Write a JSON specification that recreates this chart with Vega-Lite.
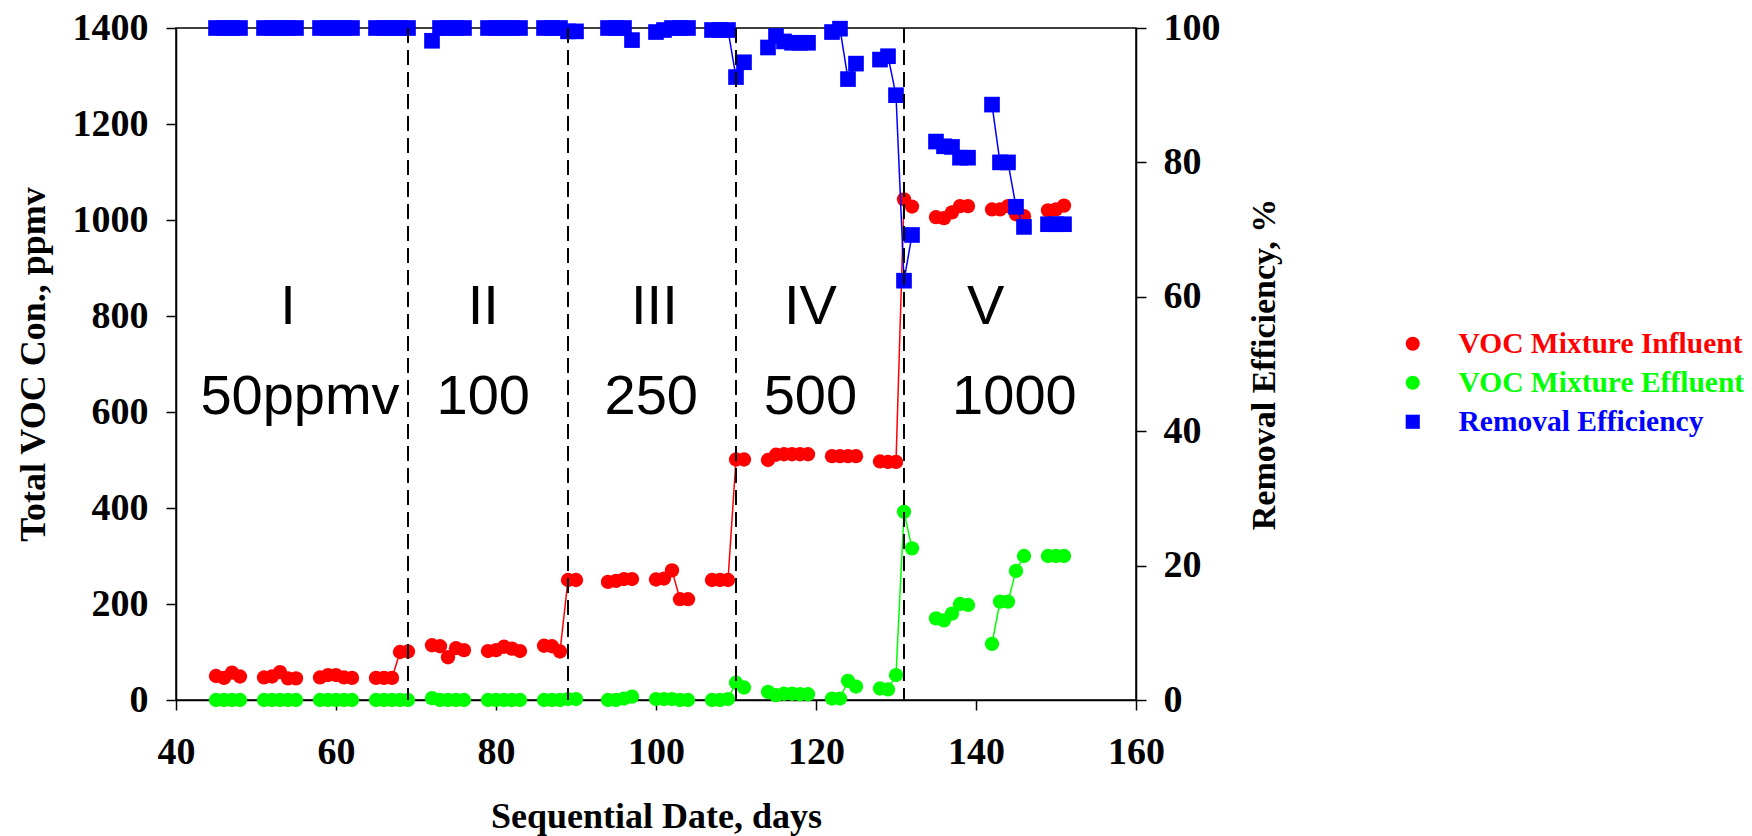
{
  "$schema": "https://vega.github.io/schema/vega-lite/v6.json",
  "width": 960,
  "height": 672,
  "autosize": {"type": "none"},
  "padding": {"left": 176, "top": 28, "right": 616, "bottom": 136},
  "background": "white",
  "config": {
    "view": {"stroke": "black", "strokeWidth": 1.5},
    "axis": {
      "labelFont": "Liberation Serif", "labelFontWeight": "bold", "labelFontSize": 38, "labelColor": "black", "labelFlush": false, "format": "d",
      "titleFont": "Liberation Serif", "titleFontWeight": "bold", "titleFontSize": 36, "titleColor": "black",
      "domainColor": "black", "domainWidth": 1.5, "tickColor": "black", "tickWidth": 1.5, "tickSize": 10, "grid": false
    },
    "legend": {
      "orient": "none", "legendX": 1222, "legendY": 301, "title": null,
      "labelFont": "Liberation Serif", "labelFontWeight": "bold", "labelFontSize": 29.5, "labelLimit": 0,
      "symbolSize": 200, "symbolOpacity": 1, "rowPadding": 8, "labelOffset": 31
    }
  },
  "datasets": {
    "obs": [
      {"day": 45, "run": 1, "VOC Mixture Influent": 50, "VOC Mixture Effluent": 0, "Removal Efficiency": 100},
      {"day": 46, "run": 1, "VOC Mixture Influent": 46, "VOC Mixture Effluent": 0, "Removal Efficiency": 100},
      {"day": 47, "run": 1, "VOC Mixture Influent": 57, "VOC Mixture Effluent": 0, "Removal Efficiency": 100},
      {"day": 48, "run": 1, "VOC Mixture Influent": 49, "VOC Mixture Effluent": 0, "Removal Efficiency": 100},
      {"day": 51, "run": 2, "VOC Mixture Influent": 47, "VOC Mixture Effluent": 0, "Removal Efficiency": 100},
      {"day": 52, "run": 2, "VOC Mixture Influent": 49, "VOC Mixture Effluent": 0, "Removal Efficiency": 100},
      {"day": 53, "run": 2, "VOC Mixture Influent": 58, "VOC Mixture Effluent": 0, "Removal Efficiency": 100},
      {"day": 54, "run": 2, "VOC Mixture Influent": 45, "VOC Mixture Effluent": 0, "Removal Efficiency": 100},
      {"day": 55, "run": 2, "VOC Mixture Influent": 45, "VOC Mixture Effluent": 0, "Removal Efficiency": 100},
      {"day": 58, "run": 3, "VOC Mixture Influent": 47, "VOC Mixture Effluent": 0, "Removal Efficiency": 100},
      {"day": 59, "run": 3, "VOC Mixture Influent": 52, "VOC Mixture Effluent": 0, "Removal Efficiency": 100},
      {"day": 60, "run": 3, "VOC Mixture Influent": 52, "VOC Mixture Effluent": 0, "Removal Efficiency": 100},
      {"day": 61, "run": 3, "VOC Mixture Influent": 47, "VOC Mixture Effluent": 0, "Removal Efficiency": 100},
      {"day": 62, "run": 3, "VOC Mixture Influent": 46, "VOC Mixture Effluent": 0, "Removal Efficiency": 100},
      {"day": 65, "run": 4, "VOC Mixture Influent": 46, "VOC Mixture Effluent": 0, "Removal Efficiency": 100},
      {"day": 66, "run": 4, "VOC Mixture Influent": 46, "VOC Mixture Effluent": 0, "Removal Efficiency": 100},
      {"day": 67, "run": 4, "VOC Mixture Influent": 46, "VOC Mixture Effluent": 0, "Removal Efficiency": 100},
      {"day": 68, "run": 4, "VOC Mixture Influent": 100, "VOC Mixture Effluent": 0, "Removal Efficiency": 100},
      {"day": 69, "run": 4, "VOC Mixture Influent": 101, "VOC Mixture Effluent": 0, "Removal Efficiency": 100},
      {"day": 72, "run": 5, "VOC Mixture Influent": 114, "VOC Mixture Effluent": 4, "Removal Efficiency": 98.1},
      {"day": 73, "run": 5, "VOC Mixture Influent": 112, "VOC Mixture Effluent": 0, "Removal Efficiency": 100},
      {"day": 74, "run": 5, "VOC Mixture Influent": 89, "VOC Mixture Effluent": 0, "Removal Efficiency": 100},
      {"day": 75, "run": 5, "VOC Mixture Influent": 108, "VOC Mixture Effluent": 0, "Removal Efficiency": 100},
      {"day": 76, "run": 5, "VOC Mixture Influent": 104, "VOC Mixture Effluent": 0, "Removal Efficiency": 100},
      {"day": 79, "run": 6, "VOC Mixture Influent": 102, "VOC Mixture Effluent": 0, "Removal Efficiency": 100},
      {"day": 80, "run": 6, "VOC Mixture Influent": 104, "VOC Mixture Effluent": 0, "Removal Efficiency": 100},
      {"day": 81, "run": 6, "VOC Mixture Influent": 111, "VOC Mixture Effluent": 0, "Removal Efficiency": 100},
      {"day": 82, "run": 6, "VOC Mixture Influent": 107, "VOC Mixture Effluent": 0, "Removal Efficiency": 100},
      {"day": 83, "run": 6, "VOC Mixture Influent": 102, "VOC Mixture Effluent": 0, "Removal Efficiency": 100},
      {"day": 86, "run": 7, "VOC Mixture Influent": 113, "VOC Mixture Effluent": 0, "Removal Efficiency": 100},
      {"day": 87, "run": 7, "VOC Mixture Influent": 112, "VOC Mixture Effluent": 0, "Removal Efficiency": 100},
      {"day": 88, "run": 7, "VOC Mixture Influent": 101, "VOC Mixture Effluent": 0, "Removal Efficiency": 100},
      {"day": 89, "run": 7, "VOC Mixture Influent": 250, "VOC Mixture Effluent": 2, "Removal Efficiency": 99.5},
      {"day": 90, "run": 7, "VOC Mixture Influent": 250, "VOC Mixture Effluent": 2, "Removal Efficiency": 99.5},
      {"day": 94, "run": 8, "VOC Mixture Influent": 246, "VOC Mixture Effluent": 0, "Removal Efficiency": 100},
      {"day": 95, "run": 8, "VOC Mixture Influent": 248, "VOC Mixture Effluent": 0, "Removal Efficiency": 100},
      {"day": 96, "run": 8, "VOC Mixture Influent": 252, "VOC Mixture Effluent": 3, "Removal Efficiency": 100},
      {"day": 97, "run": 8, "VOC Mixture Influent": 252, "VOC Mixture Effluent": 7, "Removal Efficiency": 98.2},
      {"day": 100, "run": 9, "VOC Mixture Influent": 251, "VOC Mixture Effluent": 2, "Removal Efficiency": 99.4},
      {"day": 101, "run": 9, "VOC Mixture Influent": 253, "VOC Mixture Effluent": 2, "Removal Efficiency": 99.7},
      {"day": 102, "run": 9, "VOC Mixture Influent": 270, "VOC Mixture Effluent": 2, "Removal Efficiency": 100},
      {"day": 103, "run": 9, "VOC Mixture Influent": 210, "VOC Mixture Effluent": 0, "Removal Efficiency": 100},
      {"day": 104, "run": 9, "VOC Mixture Influent": 210, "VOC Mixture Effluent": 0, "Removal Efficiency": 100},
      {"day": 107, "run": 10, "VOC Mixture Influent": 250, "VOC Mixture Effluent": 0, "Removal Efficiency": 99.7},
      {"day": 108, "run": 10, "VOC Mixture Influent": 250, "VOC Mixture Effluent": 0, "Removal Efficiency": 99.7},
      {"day": 109, "run": 10, "VOC Mixture Influent": 250, "VOC Mixture Effluent": 2, "Removal Efficiency": 99.7},
      {"day": 110, "run": 10, "VOC Mixture Influent": 501, "VOC Mixture Effluent": 36, "Removal Efficiency": 92.7},
      {"day": 111, "run": 10, "VOC Mixture Influent": 501, "VOC Mixture Effluent": 26, "Removal Efficiency": 94.9},
      {"day": 114, "run": 11, "VOC Mixture Influent": 500, "VOC Mixture Effluent": 17, "Removal Efficiency": 97.1},
      {"day": 115, "run": 11, "VOC Mixture Influent": 511, "VOC Mixture Effluent": 10, "Removal Efficiency": 98.8},
      {"day": 116, "run": 11, "VOC Mixture Influent": 512, "VOC Mixture Effluent": 13, "Removal Efficiency": 98.0},
      {"day": 117, "run": 11, "VOC Mixture Influent": 512, "VOC Mixture Effluent": 13, "Removal Efficiency": 97.8},
      {"day": 118, "run": 11, "VOC Mixture Influent": 512, "VOC Mixture Effluent": 12, "Removal Efficiency": 97.8},
      {"day": 119, "run": 11, "VOC Mixture Influent": 512, "VOC Mixture Effluent": 12, "Removal Efficiency": 97.8},
      {"day": 122, "run": 12, "VOC Mixture Influent": 508, "VOC Mixture Effluent": 3, "Removal Efficiency": 99.4},
      {"day": 123, "run": 12, "VOC Mixture Influent": 508, "VOC Mixture Effluent": 3, "Removal Efficiency": 99.9},
      {"day": 124, "run": 12, "VOC Mixture Influent": 508, "VOC Mixture Effluent": 40, "Removal Efficiency": 92.4},
      {"day": 125, "run": 12, "VOC Mixture Influent": 508, "VOC Mixture Effluent": 28, "Removal Efficiency": 94.7},
      {"day": 128, "run": 13, "VOC Mixture Influent": 497, "VOC Mixture Effluent": 24, "Removal Efficiency": 95.3},
      {"day": 129, "run": 13, "VOC Mixture Influent": 496, "VOC Mixture Effluent": 22, "Removal Efficiency": 95.8},
      {"day": 130, "run": 13, "VOC Mixture Influent": 496, "VOC Mixture Effluent": 52, "Removal Efficiency": 90.0},
      {"day": 131, "run": 13, "VOC Mixture Influent": 1043, "VOC Mixture Effluent": 392, "Removal Efficiency": 62.4},
      {"day": 132, "run": 13, "VOC Mixture Influent": 1028, "VOC Mixture Effluent": 316, "Removal Efficiency": 69.2},
      {"day": 135, "run": 14, "VOC Mixture Influent": 1006, "VOC Mixture Effluent": 170, "Removal Efficiency": 83.1},
      {"day": 136, "run": 14, "VOC Mixture Influent": 1004, "VOC Mixture Effluent": 166, "Removal Efficiency": 82.4},
      {"day": 137, "run": 14, "VOC Mixture Influent": 1016, "VOC Mixture Effluent": 180, "Removal Efficiency": 82.3},
      {"day": 138, "run": 14, "VOC Mixture Influent": 1029, "VOC Mixture Effluent": 200, "Removal Efficiency": 80.7},
      {"day": 139, "run": 14, "VOC Mixture Influent": 1029, "VOC Mixture Effluent": 198, "Removal Efficiency": 80.7},
      {"day": 142, "run": 15, "VOC Mixture Influent": 1022, "VOC Mixture Effluent": 117, "Removal Efficiency": 88.6},
      {"day": 143, "run": 15, "VOC Mixture Influent": 1022, "VOC Mixture Effluent": 205, "Removal Efficiency": 80.0},
      {"day": 144, "run": 15, "VOC Mixture Influent": 1029, "VOC Mixture Effluent": 205, "Removal Efficiency": 80.0},
      {"day": 145, "run": 15, "VOC Mixture Influent": 1012, "VOC Mixture Effluent": 269, "Removal Efficiency": 73.4},
      {"day": 146, "run": 15, "VOC Mixture Influent": 1008, "VOC Mixture Effluent": 300, "Removal Efficiency": 70.4},
      {"day": 149, "run": 16, "VOC Mixture Influent": 1020, "VOC Mixture Effluent": 300, "Removal Efficiency": 70.8},
      {"day": 150, "run": 16, "VOC Mixture Influent": 1022, "VOC Mixture Effluent": 300, "Removal Efficiency": 70.8},
      {"day": 151, "run": 16, "VOC Mixture Influent": 1030, "VOC Mixture Effluent": 300, "Removal Efficiency": 70.8}
    ],
    "phases": [{"day": 69}, {"day": 89}, {"day": 110}, {"day": 131}],
    "notes": [
      {"day": 54, "v": 818, "t": "I"},
      {"day": 78.4, "v": 818, "t": "II"},
      {"day": 99.8, "v": 818, "t": "III"},
      {"day": 119.3, "v": 818, "t": "IV"},
      {"day": 141.2, "v": 818, "t": "V"},
      {"day": 55.5, "v": 631, "t": "50ppmv"},
      {"day": 78.4, "v": 631, "t": "100"},
      {"day": 99.4, "v": 631, "t": "250"},
      {"day": 119.3, "v": 631, "t": "500"},
      {"day": 144.8, "v": 631, "t": "1000"}
    ]
  },
  "layer": [
    {
      "layer": [
        {
          "data": {"name": "obs"},
          "transform": [{"fold": ["VOC Mixture Influent", "VOC Mixture Effluent"], "as": ["series", "v"]}],
          "mark": {"type": "line", "strokeWidth": 1.5},
          "encoding": {
            "x": {"field": "day", "type": "quantitative", "scale": {"domain": [40, 160], "nice": false}, "axis": {"values": [40, 60, 80, 100, 120, 140, 160], "title": "Sequential Date, days", "labelPadding": 23, "titlePadding": 28}},
            "y": {"field": "v", "type": "quantitative", "scale": {"domain": [0, 1400], "nice": false}, "axis": {"values": [0, 200, 400, 600, 800, 1000, 1200, 1400], "title": "Total VOC Con., ppmv", "labelPadding": 18, "titlePadding": 20}},
            "detail": {"field": "run", "type": "nominal"},
            "stroke": {"field": "series", "type": "nominal", "scale": {"domain": ["Removal Efficiency", "VOC Mixture Effluent", "VOC Mixture Influent"], "range": ["#0000ff", "#00ff00", "#ff0000"]}, "legend": null}
          }
        },
        {
          "data": {"name": "obs"},
          "transform": [{"fold": ["VOC Mixture Influent", "VOC Mixture Effluent"], "as": ["series", "v"]}],
          "mark": {"type": "point", "filled": true, "opacity": 1, "size": 205},
          "encoding": {
            "x": {"field": "day", "type": "quantitative", "scale": {"domain": [40, 160], "nice": false}, "axis": {"values": [40, 60, 80, 100, 120, 140, 160], "title": "Sequential Date, days", "labelPadding": 23, "titlePadding": 28}},
            "y": {"field": "v", "type": "quantitative", "scale": {"domain": [0, 1400], "nice": false}, "axis": {"values": [0, 200, 400, 600, 800, 1000, 1200, 1400], "title": "Total VOC Con., ppmv", "labelPadding": 18, "titlePadding": 20}},
            "color": {"field": "series", "type": "nominal", "scale": {"domain": ["VOC Mixture Influent", "VOC Mixture Effluent", "Removal Efficiency"], "range": ["#ff0000", "#00ff00", "#0000ff"]},
              "legend": {"labelColor": {"expr": "scale('color', datum.value)"}}},
            "shape": {"field": "series", "type": "nominal", "scale": {"domain": ["VOC Mixture Influent", "VOC Mixture Effluent", "Removal Efficiency"], "range": ["circle", "circle", "square"]},
              "legend": {"labelColor": {"expr": "scale('color', datum.value)"}}}
          }
        },
        {
          "data": {"name": "notes"},
          "mark": {"type": "text", "font": "Liberation Sans", "fontSize": 56, "fontWeight": "normal", "align": "center", "baseline": "middle", "color": "black"},
          "encoding": {
            "x": {"field": "day", "type": "quantitative", "scale": {"domain": [40, 160], "nice": false}, "axis": {"values": [40, 60, 80, 100, 120, 140, 160], "title": "Sequential Date, days", "labelPadding": 23, "titlePadding": 28}},
            "y": {"field": "v", "type": "quantitative", "scale": {"domain": [0, 1400], "nice": false}, "axis": {"values": [0, 200, 400, 600, 800, 1000, 1200, 1400], "title": "Total VOC Con., ppmv", "labelPadding": 18, "titlePadding": 20}},
            "text": {"field": "t", "type": "nominal"}
          }
        }
      ]
    },
    {
      "layer": [
        {
          "data": {"name": "obs"},
          "transform": [{"fold": ["Removal Efficiency"], "as": ["series", "e"]}],
          "mark": {"type": "line", "strokeWidth": 1.5},
          "encoding": {
            "x": {"field": "day", "type": "quantitative", "scale": {"domain": [40, 160], "nice": false}},
            "y": {"field": "e", "type": "quantitative", "scale": {"domain": [0, 100], "nice": false}, "axis": {"orient": "right", "values": [0, 20, 40, 60, 80, 100], "title": "Removal Efficiency, %", "titleAngle": -90, "titleFontSize": 34, "labelPadding": 17, "titlePadding": 61}},
            "detail": {"field": "run", "type": "nominal"},
            "stroke": {"field": "series", "type": "nominal", "scale": {"domain": ["Removal Efficiency", "VOC Mixture Effluent", "VOC Mixture Influent"], "range": ["#0000ff", "#00ff00", "#ff0000"]}, "legend": null}
          }
        },
        {
          "data": {"name": "obs"},
          "transform": [{"fold": ["Removal Efficiency"], "as": ["series", "e"]}],
          "mark": {"type": "point", "filled": true, "opacity": 1, "size": 245},
          "encoding": {
            "x": {"field": "day", "type": "quantitative", "scale": {"domain": [40, 160], "nice": false}},
            "y": {"field": "e", "type": "quantitative", "scale": {"domain": [0, 100], "nice": false}, "axis": {"orient": "right", "values": [0, 20, 40, 60, 80, 100], "title": "Removal Efficiency, %", "titleAngle": -90, "titleFontSize": 34, "labelPadding": 17, "titlePadding": 61}},
            "color": {"field": "series", "type": "nominal", "scale": {"domain": ["VOC Mixture Influent", "VOC Mixture Effluent", "Removal Efficiency"], "range": ["#ff0000", "#00ff00", "#0000ff"]},
              "legend": {"labelColor": {"expr": "scale('color', datum.value)"}}},
            "shape": {"field": "series", "type": "nominal", "scale": {"domain": ["VOC Mixture Influent", "VOC Mixture Effluent", "Removal Efficiency"], "range": ["circle", "circle", "square"]},
              "legend": {"labelColor": {"expr": "scale('color', datum.value)"}}}
          }
        }
      ]
    },
    {
      "data": {"name": "phases"},
      "mark": {"type": "rule", "color": "black", "strokeWidth": 2, "strokeDash": [15, 7]},
      "encoding": {
        "x": {"field": "day", "type": "quantitative", "scale": {"domain": [40, 160], "nice": false}}
      }
    }
  ],
  "resolve": {"scale": {"y": "independent"}}
}
